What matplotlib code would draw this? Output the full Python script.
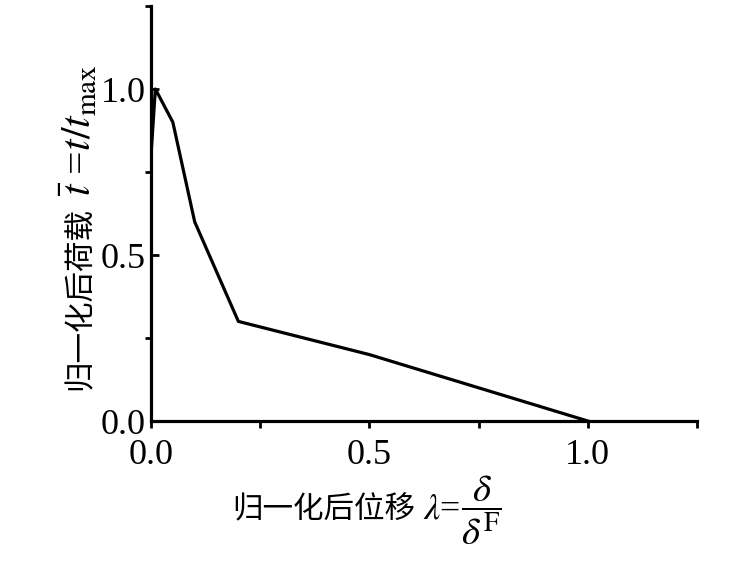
import matplotlib
matplotlib.use('Agg')
import matplotlib.pyplot as plt
from matplotlib.ticker import MultipleLocator

# normalized displacement / normalized load
disp = [0.0, 0.01, 0.05, 0.1, 0.2, 0.5, 1.0]
load = [0.8, 1.0, 0.9, 0.6, 0.3, 0.2, 0.0]
tick_vals = [0.0, 0.5, 1.0]
tick_labels = ['0.0', '0.5', '1.0']

plt.rcParams['font.family'] = ['Liberation Serif', 'Noto Sans CJK SC']
plt.rcParams['mathtext.fontset'] = 'stix'
cjk = ['Noto Sans CJK SC', 'Liberation Serif']

W, H = 738, 563
fig = plt.figure(figsize=(W/100, H/100), dpi=100)
ax = fig.add_axes([151/W, (H-421)/H, (697-151)/W, (421-6)/H])
ax.plot(disp, load, color='black', lw=2.3)

ax.set_xlim(0, 1.25)
ax.set_ylim(0, 1.25)
ax.set_xticks(tick_vals)
ax.set_xticklabels(tick_labels)
ax.set_yticks(tick_vals)
ax.set_yticklabels(tick_labels)
ax.xaxis.set_minor_locator(MultipleLocator(0.25))
ax.yaxis.set_minor_locator(MultipleLocator(0.25))

for s in ['top', 'right']:
    ax.spines[s].set_visible(False)
for s in ['left', 'bottom']:
    ax.spines[s].set_linewidth(2.3)

ax.tick_params(axis='x', which='both', direction='out', length=5, width=2, labelsize=26, pad=8)
ax.tick_params(axis='y', which='major', direction='in', length=6, width=2, labelsize=26, pad=4)
ax.tick_params(axis='y', which='minor', direction='out', length=4, width=2)

# x label: chinese + lambda + big fraction
xl = fig.text(232/W, (H-510)/H, '归一化后位移', fontsize=22, family=cjk,
              ha='left', va='center', weight='light')
xl2 = ax.annotate('$\\lambda$=', xy=(1, 0.5), xycoords=xl, xytext=(6, 0),
                  textcoords='offset points', fontsize=26,
                  ha='left', va='center', annotation_clip=False)
ax.annotate('$\\dfrac{\\delta}{\\delta^{\\mathrm{F}}}$', xy=(1, 0.5), xycoords=xl2,
            xytext=(0, 0), textcoords='offset points', fontsize=28,
            ha='left', va='center', annotation_clip=False)

# y label: chinese + math part
yl = fig.text(80/W, (H-390)/H, '归一化后荷载', fontsize=22, family=cjk,
              rotation=90, ha='center', va='bottom', weight='light')
ax.annotate('$\\bar{t}$ =$t/t_{\\mathrm{max}}$', xy=(0.5, 1), xycoords=yl,
            xytext=(0, 8), textcoords='offset points',
            fontsize=30, rotation=90, ha='center', va='bottom', annotation_clip=False)

plt.savefig('out.png', dpi=100)
